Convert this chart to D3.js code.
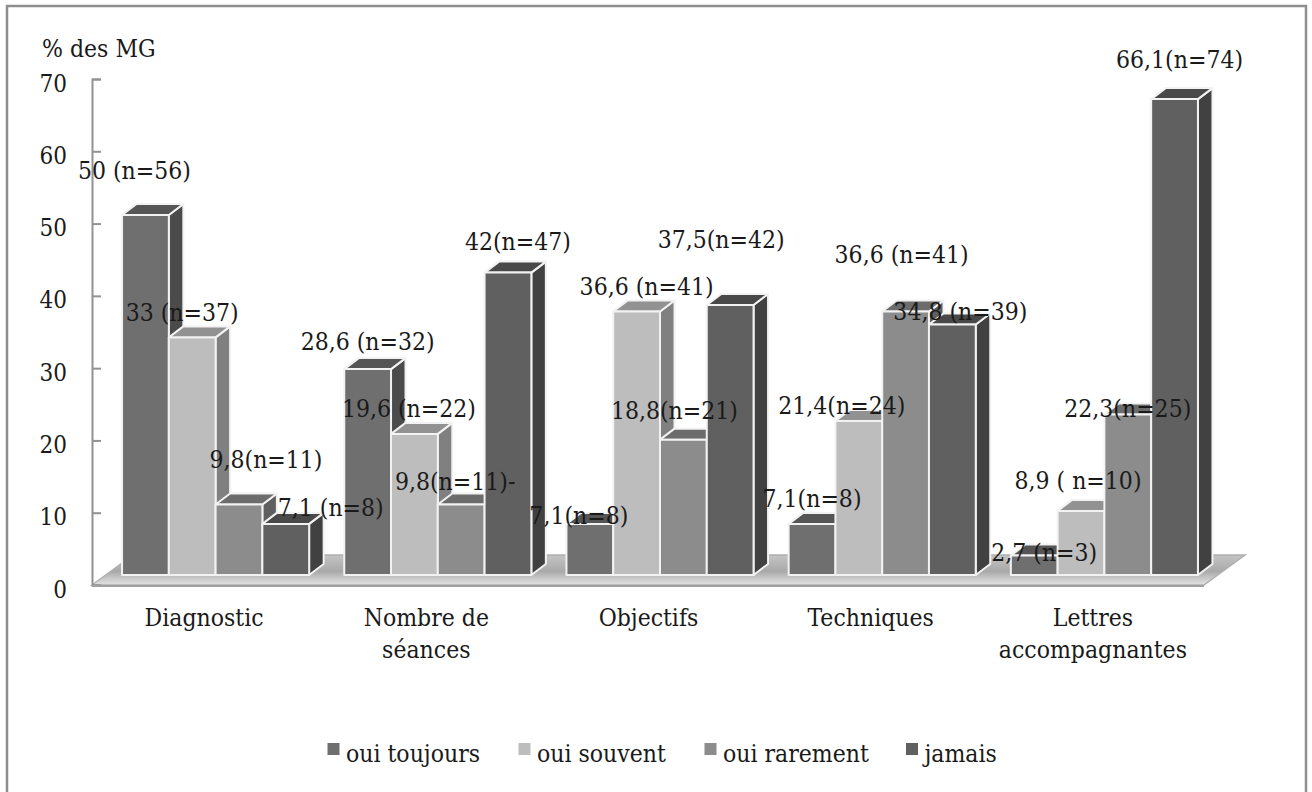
<!DOCTYPE html>
<html>
<head>
<meta charset="utf-8">
<script src="https://cdn.jsdelivr.net/npm/d3@7"></script>
<style>
  html, body { margin: 0; padding: 0; background: #fff; }
  text { font-family: "DejaVu Serif Condensed", "DejaVu Serif", serif; fill: #1a1a1a; }
</style>
</head>
<body>
<div id="chart"></div>
<script>
// Data
var categories = ["Diagnostic", "Nombre de séances", "Objectifs", "Techniques", "Lettres accompagnantes"];
var seriesNames = ["oui toujours", "oui souvent", "oui rarement", "jamais"];
var ouiToujours = [50, 28.6, 7.1, 7.1, 2.7];
var ouiSouvent = [33, 19.6, 36.6, 21.4, 8.9];
var ouiRarement = [9.8, 9.8, 18.8, 36.6, 22.3];
var jamais = [7.1, 42, 37.5, 34.8, 66.1];
var seriesValues = [ouiToujours, ouiSouvent, ouiRarement, jamais];
var labelsToujours = ["50 (n=56)", "28,6 (n=32)", "7,1(n=8)", "7,1(n=8)", "2,7 (n=3)"];
var labelsSouvent = ["33 (n=37)", "19,6 (n=22)", "36,6 (n=41)", "21,4(n=24)", "8,9 ( n=10)"];
var labelsRarement = ["9,8(n=11)", "9,8(n=11)-", "18,8(n=21)", "36,6 (n=41)", "22,3(n=25)"];
var labelsJamais = ["7,1 (n=8)", "42(n=47)", "37,5(n=42)", "34,8 (n=39)", "66,1(n=74)"];
var seriesLabels = [labelsToujours, labelsSouvent, labelsRarement, labelsJamais];
var yTicks = [0, 10, 20, 30, 40, 50, 60, 70];

// Layout and styles
var svgWidth = 1312, svgHeight = 792;
var fontSize = 24.5;
var front = ["#6f6f6f", "#bdbdbd", "#8c8c8c", "#606060"];
var top3d = ["#555555", "#929292", "#6c6c6c", "#494949"];
var side = ["#4b4b4b", "#808080", "#5f5f5f", "#414141"];
var depthX = 14.5, depthY = 11;
var floorX = 41, floorY = 30;

// hand placed data labels, [dx, dy] from top centre of each bar
var nudges = [
  [[-11, -45], [0, -27.5], [-11, -8], [0, -25], [10, -3.5]],
  [[-10, -25], [-5.5, -25.5], [10, -25], [-17, -15], [-3, -30]],
  [[27, -45], [-6, -23], [-9, -29.5], [-4, -57], [0, -6.5]],
  [[45, -16], [10, -31], [-9, -66], [8, -13], [5, -40]]
];

var svg = d3.select("#chart").append("svg")
  .attr("width", svgWidth)
  .attr("height", svgHeight)
  .style("display", "block");

// Outer frame
svg.append("path")
  .attr("d", "M7,792 V6 H1306 V792")
  .attr("fill", "none")
  .attr("stroke", "#8e8e8e")
  .attr("stroke-width", 2.5);

// Scales
var y = d3.scaleLinear().domain([0, 70]).range([585, 79]);
var yBar = d3.scaleLinear().domain([0, 70]).range([575, 71]);
var x0 = d3.scaleBand().domain(categories)
  .range([104.5, 1215.5])
  .paddingInner(0.158)
  .paddingOuter(0.079);
var x1 = d3.scaleBand().domain(d3.range(4)).range([0, x0.bandwidth()]);

// Floor
var defs = svg.append("defs");
var grad = defs.append("linearGradient").attr("id", "floorFill")
  .attr("x1", 0).attr("y1", 0).attr("x2", 0).attr("y2", 1);
grad.append("stop").attr("offset", "0%").attr("stop-color", "#c4c4c4");
grad.append("stop").attr("offset", "55%").attr("stop-color", "#a9a9a9");
grad.append("stop").attr("offset", "78%").attr("stop-color", "#c9c9c9");
grad.append("stop").attr("offset", "100%").attr("stop-color", "#e2e2e2");

var axisLeftX = 92, axisRightX = 1204;
svg.append("polygon")
  .attr("points", [
    [axisLeftX, y(0)], [axisLeftX + floorX, y(0) - floorY],
    [axisRightX + floorX, y(0) - floorY], [axisRightX, y(0)]
  ].join(" "))
  .attr("fill", "url(#floorFill)")
  .attr("stroke", "#b0b0b0")
  .attr("stroke-width", 1.5);

// Axes
var yAxis = d3.axisLeft(y).tickValues(yTicks).tickSizeInner(-9).tickSizeOuter(-9).tickPadding(25);
var yG = svg.append("g").attr("transform", "translate(" + axisLeftX + ",0)").call(yAxis);
yG.selectAll("line, path").attr("stroke", "#929292").attr("stroke-width", 2);
yG.selectAll("text").attr("font-size", 24).attr("dy", "0.5em").style("font-family", null);
svg.append("line")
  .attr("x1", axisLeftX).attr("x2", axisRightX)
  .attr("y1", y(0) + 1).attr("y2", y(0) + 1)
  .attr("stroke", "#a0a0a0").attr("stroke-width", 2);

svg.append("text").attr("x", 42).attr("y", 57).attr("font-size", fontSize).text("% des MG");

var xAxis = d3.axisBottom(x0).tickSize(0);
var xG = svg.append("g").attr("transform", "translate(-11.5,609)").call(xAxis);
xG.select(".domain").remove();
xG.selectAll("text").attr("font-size", fontSize).style("font-family", null).each(function(d) {
  var cut = d.indexOf(" ") > 0 ? d.lastIndexOf(" ") : -1;
  var parts = cut > 0 ? [d.slice(0, cut), d.slice(cut + 1)] : [d];
  var t = d3.select(this).text(null);
  parts.forEach(function(p, i) {
    t.append("tspan").attr("x", 0).attr("y", i * 32).attr("dy", "0.71em").text(p);
  });
});

// Bars, left to right so later ones overlap the side faces
var rows = [];
seriesValues.forEach(function(vals, s) {
  vals.forEach(function(v, c) {
    rows.push({ s: s, c: c, v: v, label: seriesLabels[s][c], nudge: nudges[s][c] });
  });
});
rows.sort(function(a, b) { return (a.c - b.c) || (a.s - b.s); });

var barX = function(d) { return x0(categories[d.c]) + x1(d.s); };
var barTop = function(d) { return yBar(d.v); };
var barBase = yBar(0);

var bars = svg.append("g").selectAll("g").data(rows).enter().append("g")
  .attr("stroke", "#f2f2f2").attr("stroke-width", 2).attr("stroke-linejoin", "round");

bars.append("polygon")
  .attr("fill", function(d) { return side[d.s]; })
  .attr("points", function(d) {
    var r = barX(d) + x1.bandwidth();
    return [[r, barTop(d)], [r + depthX, barTop(d) - depthY], [r + depthX, barBase - depthY], [r, barBase]].join(" ");
  });
bars.append("polygon")
  .attr("fill", function(d) { return top3d[d.s]; })
  .attr("points", function(d) {
    var l = barX(d), r = l + x1.bandwidth(), t = barTop(d);
    return [[l, t], [l + depthX, t - depthY], [r + depthX, t - depthY], [r, t]].join(" ");
  });
bars.append("rect")
  .attr("fill", function(d) { return front[d.s]; })
  .attr("x", barX)
  .attr("y", barTop)
  .attr("width", x1.bandwidth())
  .attr("height", function(d) { return barBase - barTop(d); });

// Data labels
svg.append("g").selectAll("text").data(rows).enter().append("text")
  .attr("x", function(d) { return barX(d) + x1.bandwidth() / 2 + d.nudge[0]; })
  .attr("y", function(d) { return barTop(d) + d.nudge[1]; })
  .attr("dy", "0.35em")
  .attr("text-anchor", "middle")
  .attr("font-size", fontSize)
  .text(function(d) { return d.label; });

// Legend
var legendX = [327.5, 518.5, 704.5, 906];
var legend = svg.append("g").selectAll("g").data(seriesNames).enter().append("g")
  .attr("transform", function(d, i) { return "translate(" + legendX[i] + ",743)"; });
legend.append("rect")
  .attr("width", 12).attr("height", 12)
  .attr("fill", function(d, i) { return front[i]; });
legend.append("text")
  .attr("x", 18.5).attr("y", 19)
  .attr("font-size", fontSize)
  .text(function(d) { return d; });
</script>
</body>
</html>
